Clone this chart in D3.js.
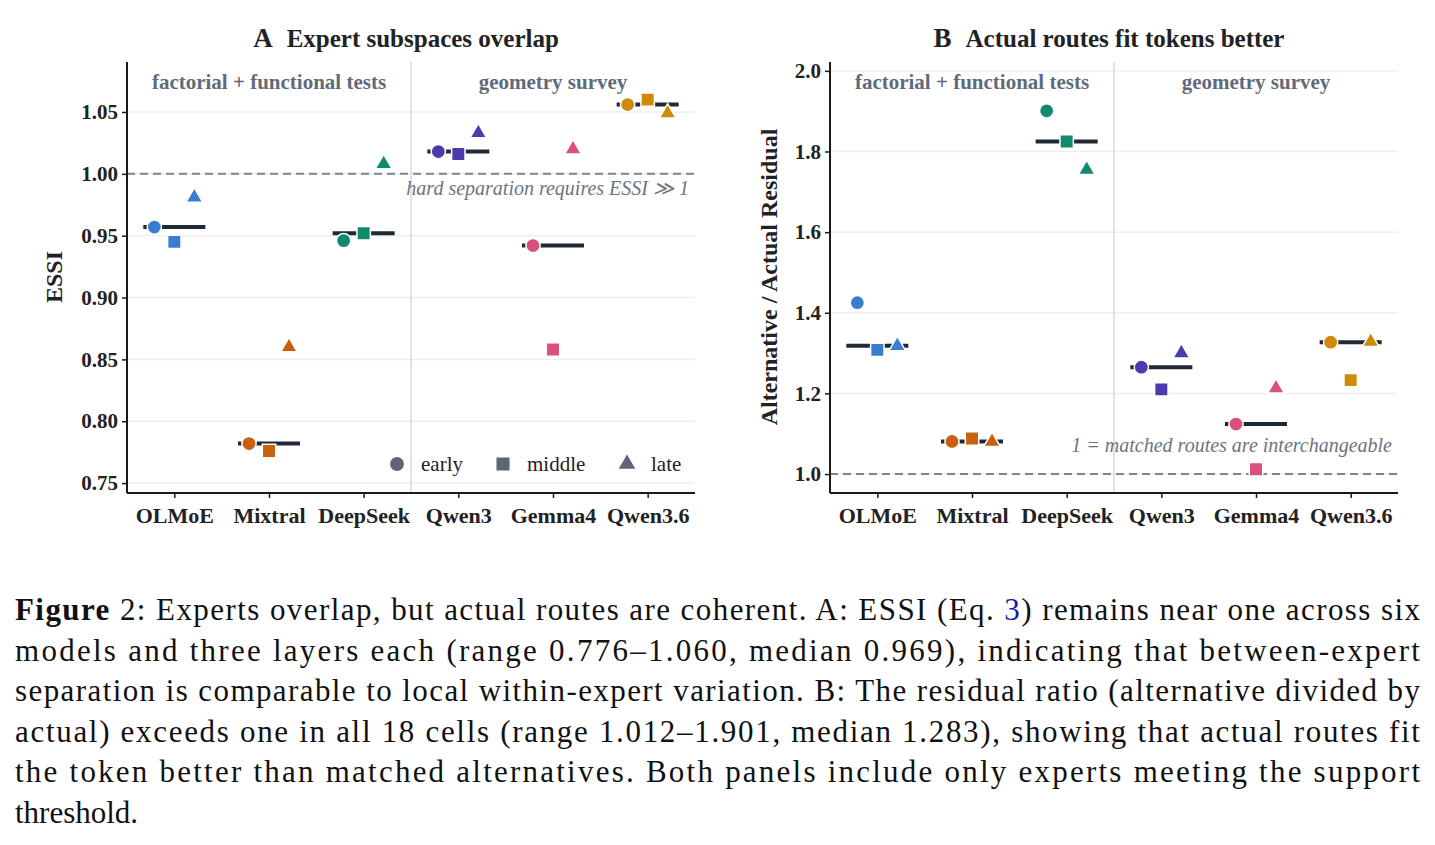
<!DOCTYPE html>
<html><head><meta charset="utf-8">
<script src="https://cdn.jsdelivr.net/npm/d3@7"></script>
<style>body{margin:0;background:#fff}svg{display:block}</style>
</head><body>
<script>
const models=["OLMoE","Mixtral","DeepSeek","Qwen3","Gemma4","Qwen3.6"];
const colors=["#3a7dd0","#c8600f","#118a6e","#4b3bb0","#d9507f","#d08a0a"];
const layers=["early","middle","late"];
const essiEarly=[0.957,0.782,0.946,1.018,0.942,1.056];
const essiMiddle=[0.945,0.776,0.952,1.016,0.858,1.060];
const essiLate=[0.981,0.860,1.008,1.033,1.020,1.049];
const essiMedian=[0.957,0.782,0.952,1.018,0.942,1.056];
const essiTicks=[0.75,0.80,0.85,0.90,0.95,1.00,1.05];
const resEarly=[1.425,1.081,1.901,1.265,1.124,1.327];
const resMiddle=[1.308,1.088,1.825,1.210,1.012,1.233];
const resLate=[1.318,1.080,1.755,1.300,1.213,1.328];
const resMedian=[1.318,1.081,1.825,1.265,1.124,1.327];
const resTicks=[1.0,1.2,1.4,1.6,1.8,2.0];
const caption=[
 [["b","Figure"],["n"," 2: Experts overlap, but actual routes are coherent. A: ESSI (Eq. "],["l","3"],["n",") remains near one across six"]],
 [["n","models and three layers each (range 0.776–1.060, median 0.969), indicating that between-expert"]],
 [["n","separation is comparable to local within-expert variation. B: The residual ratio (alternative divided by"]],
 [["n","actual) exceeds one in all 18 cells (range 1.012–1.901, median 1.283), showing that actual routes fit"]],
 [["n","the token better than matched alternatives. Both panels include only experts meeting the support"]],
 [["n","threshold."]]
];

const W=1435,H=845,serif="'Liberation Serif','DejaVu Serif',serif";
const svg=d3.select("body").append("svg").attr("width",W).attr("height",H).style("font-family",serif);

function panel(o){
  const g=svg.append("g");
  const x=d3.scalePoint().domain(models).range([o.x0,o.x1]).padding(0.5);
  const y=d3.scaleLinear().domain(o.dom).range([493,62]);
  g.selectAll(".gr").data(o.ticks).join("line").attr("x1",o.x0).attr("x2",o.x1)
   .attr("y1",d=>y(d)).attr("y2",d=>y(d)).attr("stroke","#eceef2").attr("stroke-width",1.5);
  const sep=(x("DeepSeek")+x("Qwen3"))/2;
  g.append("line").attr("x1",sep).attr("x2",sep).attr("y1",62).attr("y2",493).attr("stroke","#d5d9df").attr("stroke-width",1.5);
  g.append("line").attr("x1",o.x0).attr("x2",o.x1).attr("y1",y(1)).attr("y2",y(1))
   .attr("stroke","#7a8494").attr("stroke-width",2).attr("stroke-dasharray","8,5");
  const ya=g.append("g").attr("transform",`translate(${o.x0},0)`).call(d3.axisLeft(y).tickValues(o.ticks).tickFormat(o.fmt).tickSize(5).tickPadding(4));
  const xa=g.append("g").attr("transform","translate(0,493)").call(d3.axisBottom(x).tickSize(5).tickPadding(9));
  [ya,xa].forEach(a=>{a.select(".domain").attr("stroke","#1a1a1a").attr("stroke-width",2);
    a.selectAll(".tick line").attr("stroke","#1a1a1a").attr("stroke-width",1.5);
    a.selectAll("text").attr("font-family",serif).attr("font-weight","bold").attr("font-size",21).attr("fill","#222");});
  xa.selectAll("text").attr("font-size",22);
  ya.select(".domain").attr("d",`M0,62V493`);
  xa.select(".domain").attr("d",`M${o.x0},0H${o.x1}`);
  g.append("text").attr("transform",`translate(${o.ylx},277) rotate(-90)`).attr("text-anchor","middle")
   .attr("font-weight","bold").attr("font-size",24).attr("fill","#222").text(o.ylab);
  const t=g.append("text").attr("x",(o.x0+o.x1)/2-5).attr("y",47).attr("text-anchor","middle").attr("font-weight","bold").attr("font-size",27).attr("fill","#222");
  t.append("tspan").text(o.letter);t.append("tspan").attr("dx",14).attr("font-size",25).text(o.title);
  g.append("text").attr("x",(o.x0+sep)/2).attr("y",89).attr("text-anchor","middle").attr("font-weight","bold").attr("font-size",21).attr("fill","#5f6b7a").text("factorial + functional tests");
  g.append("text").attr("x",(sep+o.x1)/2).attr("y",89).attr("text-anchor","middle").attr("font-weight","bold").attr("font-size",21).attr("fill","#5f6b7a").text("geometry survey");
  g.append("text").attr("x",o.annX).attr("y",o.annY).attr("text-anchor","end").attr("font-style","italic").attr("font-size",20).attr("fill","#6b7482").text(o.ann);
  g.selectAll(".med").data(models).join("line").attr("x1",d=>x(d)-31).attr("x2",d=>x(d)+31)
   .attr("y1",(d,i)=>y(o.med[i])).attr("y2",(d,i)=>y(o.med[i])).attr("stroke","#1f2a36").attr("stroke-width",4);
  const off=[-20,0,20];
  [o.e,o.m,o.l].forEach((arr,li)=>{
    g.selectAll(".p"+li).data(models).join("path")
     .attr("transform",(d,i)=>`translate(${x(d)+off[li]},${y(arr[i])})`)
     .attr("d",d3.symbol().type([d3.symbolCircle,d3.symbolSquare,d3.symbolTriangle][li]).size([160,180,120][li])())
     .attr("fill",(d,i)=>colors[i]).attr("stroke","#fff").attr("stroke-width",1.5);
  });
}
panel({x0:127,x1:695,dom:[0.742,1.0904],ticks:essiTicks,fmt:d3.format(".2f"),ylab:"ESSI",ylx:62,letter:"A",title:"Expert subspaces overlap",
  e:essiEarly,m:essiMiddle,l:essiLate,med:essiMedian,ann:"hard separation requires ESSI ≫ 1",annX:689,annY:195});
panel({x0:830,x1:1398,dom:[0.953,2.022],ticks:resTicks,fmt:d3.format(".1f"),ylab:"Alternative / Actual Residual",ylx:777,letter:"B",title:"Actual routes fit tokens better",
  e:resEarly,m:resMiddle,l:resLate,med:resMedian,ann:"1 = matched routes are interchangeable",annX:1392,annY:452});
const lg=[[397,"early",d3.symbolCircle,150],[503,"middle",d3.symbolSquare,170],[627,"late",d3.symbolTriangle,120]];
lg.forEach((d,i)=>{
  svg.append("path").attr("transform",`translate(${d[0]},464)`).attr("d",d3.symbol().type(d[2]).size(d[3])()).attr("fill","#5d6672");
  svg.append("text").attr("x",d[0]+24).attr("y",471).attr("font-size",21).attr("fill","#222").text(layers[i]);
});
caption.forEach((line,i)=>{
  const t=svg.append("text").attr("x",15).attr("y",620+i*40.5).attr("font-size",31).attr("fill","#111");
  if(i<caption.length-1) t.attr("textLength",1405).attr("lengthAdjust","spacing");
  line.forEach(s=>{const ts=t.append("tspan").text(s[1]);
    if(s[0]==="b")ts.attr("font-weight","bold");if(s[0]==="l")ts.attr("fill","#1a1aa8");});
});
</script>
</body></html>
